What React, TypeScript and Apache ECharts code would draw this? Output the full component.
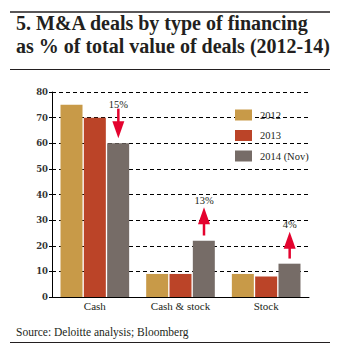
import React, { useEffect, useRef } from "react";
import * as echarts from "echarts";

const categories = ["Cash", "Cash & stock", "Stock"];
const seriesNames = ["2012", "2013", "2014 (Nov)"];
const values2012 = [75, 9, 9];
const values2013 = [70, 9, 8];
const values2014 = [60, 22, 13];
const yTicks = { min: 0, max: 80, interval: 10 };

const arrowCats = [0, 1, 2];
const arrowFrom = [73.5, 24, 15];
const arrowTo = [62, 35, 25.5];
const arrowLabelAt = [75.3, 37.8, 28.3];
const arrowLabels = ["15%", "13%", "4%"];

const colors = ["#c89a48", "#bb4428", "#766c67"];
const RED = "#e4032e";
const TEXT = "#231f20";
const SERIF = "Liberation Serif";
const SERIF2 = "DejaVu Serif";

export default function App() {
  const ref = useRef<HTMLDivElement>(null);
  useEffect(() => {
    if (!ref.current) return;
    const chart = echarts.init(ref.current, null, { renderer: "svg" });
    const barBase = {
      type: "bar" as const,
      barWidth: 22,
      barGap: "6%",
    };
    const arrowData = arrowCats.map((c, i) => [c, arrowFrom[i], arrowTo[i], arrowLabelAt[i]]);
    chart.setOption({
      animation: false,
      backgroundColor: "#ffffff",
      color: colors,
      grid: { left: 52, right: 48, top: 92, bottom: 57, containLabel: false },
      legend: {
        orient: "vertical",
        left: 230,
        top: 104.5,
        itemWidth: 17,
        itemHeight: 11,
        itemGap: 9.5,
        icon: "rect",
        data: seriesNames,
        textStyle: { fontFamily: SERIF, fontSize: 10.5, color: TEXT, padding: [0, 0, 0, 3] },
      },
      xAxis: {
        type: "category",
        data: categories,
        axisLine: { show: true, lineStyle: { color: "#000", width: 1 } },
        axisTick: { show: false },
        axisLabel: { fontFamily: SERIF, fontSize: 11, color: TEXT, margin: 3 },
      },
      yAxis: {
        type: "value",
        min: yTicks.min,
        max: yTicks.max,
        interval: yTicks.interval,
        axisLine: { show: true, lineStyle: { color: "#000", width: 1 } },
        axisTick: { show: true, length: 3, lineStyle: { color: "#000" } },
        axisLabel: { fontFamily: SERIF2, fontSize: 8.5, fontWeight: "bold", color: "#333", margin: 4 },
        splitLine: { show: true, lineStyle: { color: "#000", type: [4, 3], width: 1 } },
      },
      series: [
        { ...barBase, name: seriesNames[0], data: values2012 },
        { ...barBase, name: seriesNames[1], data: values2013 },
        { ...barBase, name: seriesNames[2], data: values2014 },
        {
          type: "custom",
          name: "arrows",
          data: arrowData,
          encode: { x: 0, y: [1, 2, 3] },
          z: 10,
          renderItem: (params: any, api: any) => {
            const cat = api.value(0);
            const p1 = api.coord([cat, api.value(1)]);
            const p2 = api.coord([cat, api.value(2)]);
            const pl = api.coord([cat, api.value(3)]);
            const x = p1[0] + 23.5;
            const dir = p2[1] > p1[1] ? 1 : -1;
            const headLen = 17;
            const halfW = 6;
            const headBase = p2[1] - dir * headLen;
            return {
              type: "group",
              children: [
                {
                  type: "line",
                  shape: { x1: x, y1: p1[1], x2: x, y2: headBase + dir * 1 },
                  style: { stroke: RED, lineWidth: 2.5 },
                },
                {
                  type: "polygon",
                  shape: {
                    points: [
                      [x - halfW, headBase],
                      [x + halfW, headBase],
                      [x, p2[1]],
                    ],
                  },
                  style: { fill: RED },
                },
                {
                  type: "text",
                  x: x,
                  y: pl[1],
                  style: {
                    text: arrowLabels[params.dataIndex],
                    fontFamily: SERIF,
                    fontSize: 10.5,
                    fill: TEXT,
                    align: "center",
                    verticalAlign: "middle",
                  },
                },
              ],
            };
          },
        },
      ],
      graphic: [
        { type: "line", shape: { x1: 10, y1: 12, x2: 330, y2: 12 }, style: { stroke: "#231f20", lineWidth: 1.5 } },
        {
          type: "text",
          left: 16,
          top: 11.5,
          style: {
            text: "5. M&A deals by type of financing\nas % of total value of deals (2012-14)",
            fontFamily: SERIF,
            fontSize: 20,
            fontWeight: "bold",
            lineHeight: 23,
            fill: TEXT,
          },
        },
        { type: "line", shape: { x1: 10, y1: 69.5, x2: 330, y2: 69.5 }, style: { stroke: "#231f20", lineWidth: 1 } },
        {
          type: "text",
          left: 16,
          top: 326,
          style: {
            text: "Source: Deloitte analysis; Bloomberg",
            fontFamily: SERIF,
            fontSize: 11.5,
            fill: TEXT,
          },
        },
        { type: "line", shape: { x1: 10, y1: 342.5, x2: 330, y2: 342.5 }, style: { stroke: "#231f20", lineWidth: 1 } },
      ],
    });
    return () => chart.dispose();
  }, []);
  return (
    <div
      ref={ref}
      style={{ position: "fixed", left: 0, top: 0, width: 357, height: 354, background: "#fff" }}
    />
  );
}
